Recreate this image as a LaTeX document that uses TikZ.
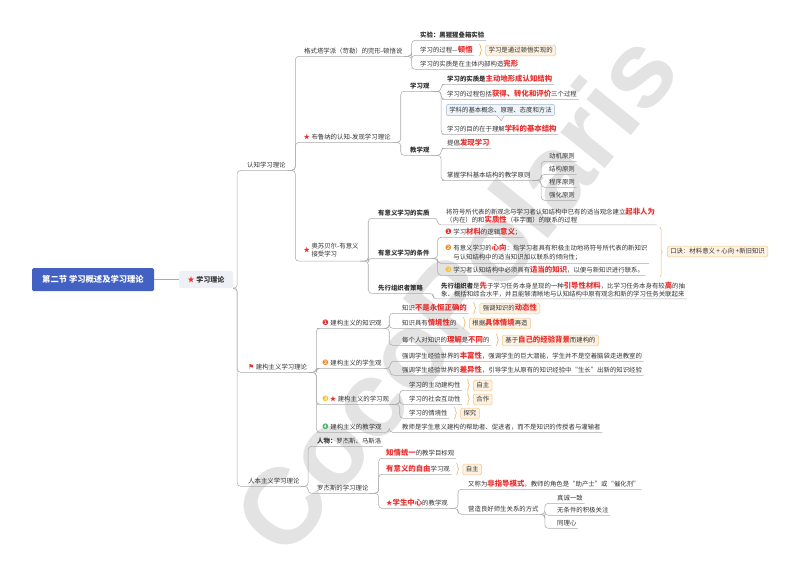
\documentclass[tikz,border=0pt]{standalone}
\usepackage{fontspec}
\setmainfont{Noto Sans CJK SC}
\newfontfamily\djv{DejaVu Sans}
\newfontfamily\wmf{Liberation Sans}
\usetikzlibrary{decorations.pathreplacing,calc}
\definecolor{txt}{HTML}{333333}
\definecolor{hlred}{HTML}{E8302F}
\definecolor{lg}{HTML}{ABABAB}
\definecolor{rootblue}{HTML}{4361C2}
\definecolor{tagbg}{HTML}{EEF0F6}
\definecolor{peach}{HTML}{FDF2E2}
\definecolor{peachb}{HTML}{F3C589}
\definecolor{brcol}{HTML}{EFB869}
\definecolor{callbg}{HTML}{EEF4F9}
\definecolor{callb}{HTML}{A6B8CC}
\definecolor{cA}{HTML}{E0302F}
\definecolor{cB}{HTML}{F0892E}
\definecolor{cC}{HTML}{F5C132}
\definecolor{cD}{HTML}{4CAF6A}
\definecolor{wm}{HTML}{E3E3E3}
\newcommand\fs{\fontsize{6.4pt}{8.4pt}\selectfont}
\newcommand\hl[1]{{\fontsize{7.4pt}{8.4pt}\selectfont\bfseries\color{hlred}#1}}
\newcommand\rst{{\color{hlred}★}}
\newcommand\nA{{\djv\fontsize{7.5pt}{8pt}\selectfont\color{cA}❶}}
\newcommand\nB{{\djv\fontsize{7.5pt}{8pt}\selectfont\color{cB}❷}}
\newcommand\nC{{\djv\fontsize{7.5pt}{8pt}\selectfont\color{cC}❸}}
\newcommand\nD{{\djv\fontsize{7.5pt}{8pt}\selectfont\color{cD}❹}}
\newcommand\flg{{\djv\fontsize{7pt}{8pt}\selectfont\color{hlred}⚑}}
\newcommand\lnk[3][8]{\draw[conn] (#2.south east) -- ++(#1,0) |- (#3.south west) -- (#3.south east);}
\newcommand\brsum[3]{%
  \draw[brcs] ($(#1.east)+(5,-6)$) -- ($(#1.east)+(5,6)$);
  \node[sbox] (#2) at ($(#1.east)+(11,0.5)$) {#3};}
\tikzset{
  t/.style={anchor=west, inner xsep=1.5pt, inner ysep=1.5pt, text height=5.8pt, text depth=1.4pt, font=\fs, text=txt},
  tb/.style={t, font=\fs\bfseries},
  ml/.style={anchor=west, inner xsep=1.5pt, inner ysep=1.5pt, font=\fs, text=txt, align=left},
  conn/.style={draw=lg, line width=0.55pt, rounded corners=3.5pt},
  sbox/.style={anchor=west, fill=peach, draw=peachb, line width=0.5pt, rounded corners=1.5pt, inner xsep=3pt, inner ysep=1.8pt, text height=5.8pt, text depth=1.4pt, font=\fs, text=txt},
  brcs/.style={draw=brcol, line width=0.6pt, decorate, decoration={brace, amplitude=2.2pt}},
  rootbox/.style={fill=rootblue, text=white, font=\fontsize{8.3pt}{9pt}\selectfont\bfseries, minimum width=122pt, minimum height=23pt, rounded corners=1.5pt, inner sep=0pt},
  tagbox/.style={fill=tagbg, text=txt, font=\fontsize{7pt}{8pt}\selectfont\bfseries, minimum width=54pt, minimum height=17pt, rounded corners=1.5pt, inner sep=0pt},
  callout/.style={fill=callbg, draw=callb, line width=0.5pt, rounded corners=2pt, inner xsep=3pt, inner ysep=2pt, font=\fs, text=txt, text height=5.8pt, text depth=1.4pt}
}
\begin{document}
\begin{tikzpicture}[x=1pt,y=-1pt]
\useasboundingbox (0,0) rectangle (800,566);
% watermark
\node[rotate=51, text=wm, font=\wmf\fontsize{108pt}{108pt}\selectfont\bfseries] (wmk) at (455,292) {CocoPolaris};

% root
\node[rootbox] (root) at (93,279.5) {第二节 学习概述及学习理论};
\node[tagbox] (lt) at (206,279.5) {\rst\ 学习理论};
\draw[conn] (root.east) -- (lt.west);

% level 1
\node[t] (rz) at (245.5,165) {认知学习理论};
\node[t] (jg) at (246.5,367) {\flg\ 建构主义学习理论};
\node[t] (rb) at (246.5,481) {人本主义学习理论};
\lnk[4]{lt}{rz}
\lnk[4]{lt}{jg}
\lnk[4]{lt}{rb}

% cognitive
\node[t] (gs) at (302.5,51) {格式塔学派（苛勒）的完形-顿悟说};
\node[t] (bln) at (302,137) {\rst\ 布鲁纳的认知-发现学习理论};
\node[ml] (asb) at (302,251) {\rst\ \begin{tabular}{@{}l@{}}奥苏贝尔-有意义\\接受学习\end{tabular}};
\lnk[8]{rz}{gs}
\lnk[8]{rz}{bln}
\lnk[8]{rz}{asb}

% gestalt
\node[tb] (sy) at (418.5,35) {实验：黑猩猩叠箱实验};
\node[t] (gc) at (418.5,50) {学习的过程—\hl{顿悟}};
\node[t] (sz) at (418.5,64) {学习的实质是在主体内部构造\hl{完形}};
\lnk[7.5]{gs}{sy}
\lnk[7.5]{gs}{gc}
\lnk[7.5]{gs}{sz}
\brsum{gc}{dw}{学习是通过顿悟实现的}

% Bruner
\node[tb] (xxg) at (408.5,86) {学习观};
\node[tb] (jxg) at (408.5,150) {教学观};
\lnk[8.5]{bln}{xxg}
\lnk[8.5]{bln}{jxg}
\node[t] (x1) at (445.5,79) {\textbf{学习的实质是}\hl{主动地形成认知结构}};
\node[t] (x2) at (445.5,94) {学习的过程包括\hl{获得、转化和评价}三个过程};
\node[t] (x3) at (445.5,129) {学习的目的在于理解\hl{学科的基本结构}};
\lnk[10]{xxg}{x1}
\lnk[10]{xxg}{x2}
\lnk[10]{xxg}{x3}
\node[callout] (cb) at (500.5,110) {学科的基本概念、原理、态度和方法};
\fill[callbg] ($(cb.south)+(-3.5,-0.6)$) -- ($(cb.south)+(1,5)$) -- ($(cb.south)+(3.5,-0.6)$) -- cycle;
\draw[callb, line width=0.5pt] ($(cb.south)+(-3.5,0)$) -- ($(cb.south)+(1,5)$) -- ($(cb.south)+(3.5,0)$);
\node[t] (j1) at (445.5,143) {提倡\hl{发现学习}};
\node[t] (j2) at (445.5,175) {掌握学科基本结构的教学原则};
\lnk[10]{jxg}{j1}
\lnk[10]{jxg}{j2}
\node[t] (p1) at (547.5,156) {动机原则};
\node[t] (p2) at (547.5,169) {结构原则};
\node[t] (p3) at (547.5,182) {程序原则};
\node[t] (p4) at (547.5,195) {强化原则};
\lnk[9]{j2}{p1}
\lnk[9]{j2}{p2}
\lnk[9]{j2}{p3}
\lnk[9]{j2}{p4}

% Ausubel
\node[tb] (a1) at (376.5,213) {有意义学习的实质};
\node[tb] (a2) at (376.5,253) {有意义学习的条件};
\node[tb] (a3) at (376.5,288) {先行组织者策略};
\lnk[8]{asb}{a1}
\lnk[8]{asb}{a2}
\lnk[8]{asb}{a3}
\node[ml] (a1c) at (444.5,215.5) {将符号所代表的新观念与学习者认知结构中已有的适当观念建立\hl{起非人为}\\（内在）的和\hl{实质性}（非字面）的联系的过程};
\lnk[6.5]{a1}{a1c}
\node[t] (c1) at (443.5,232) {\nA\ 学习\hl{材料}的逻辑\hl{意义}；};
\node[ml] (c2) at (443.5,253) {\nB\ \begin{tabular}[t]{@{}l@{}}有意义学习的\hl{心向}：指学习者具有积极主动地将符号所代表的新知识\\与认知结构中的适当知识加以联系的倾向性；\end{tabular}};
\node[t] (c3) at (443.5,270) {\nC\ 学习者认知结构中必须具有\hl{适当的知识}，以便与新知识进行联系。};
\lnk[6.5]{a2}{c1}
\lnk[6.5]{a2}{c2}
\lnk[6.5]{a2}{c3}
\draw[brcs] (660,227) -- (660,277);
\node[sbox] (kj) at (667,251.5) {口诀：材料意义 + 心向 +新旧知识};
\node[ml] (a3c) at (439.5,289.5) {\textbf{先行组织者}是\hl{先}于学习任务本身呈现的一种\hl{引导性材料}，比学习任务本身有较\hl{高}的抽\\象、概括和综合水平，并且能够清晰地与认知结构中原有观念和新的学习任务关联起来};
\lnk[8.5]{a3}{a3c}

% constructivism
\node[t] (k1) at (320.5,323) {\nA\ 建构主义的知识观};
\node[t] (k2) at (320.5,363) {\nB\ 建构主义的学生观};
\node[t] (k3) at (320.5,399) {\nC\,\rst\ 建构主义的学习观};
\node[t] (k4) at (320.5,427) {\nD\ 建构主义的教学观};
\lnk[7.5]{jg}{k1}
\lnk[7.5]{jg}{k2}
\lnk[7.5]{jg}{k3}
\lnk[7.5]{jg}{k4}
\node[t] (z1) at (400.5,308) {知识\hl{不是永恒正确的}};
\node[t] (z2) at (400.5,323) {知识具有\hl{情境性}的};
\node[t] (z3) at (400.5,340) {每个人对知识的\hl{理解}是\hl{不同}的};
\lnk[6]{k1}{z1}
\lnk[6]{k1}{z2}
\lnk[6]{k1}{z3}
\brsum{z1}{zb1}{强调知识的\hl{动态性}}
\brsum{z2}{zb2}{根据\hl{具体情境}再造}
\brsum{z3}{zb3}{基于\hl{自己的经验背景}而建构的}
\node[t] (s1) at (400.5,356) {强调学生经验世界的\hl{丰富性}，强调学生的巨大潜能，学生并不是空着脑袋走进教室的};
\node[t] (s2) at (400.5,370) {强调学生经验世界的\hl{差异性}，引导学生从原有的知识经验中“生长”出新的知识经验};
\lnk[7]{k2}{s1}
\lnk[7]{k2}{s2}
\node[t] (l1) at (407.5,385) {学习的主动建构性};
\node[t] (l2) at (407.5,399) {学习的社会互动性};
\node[t] (l3) at (407.5,413) {学习的情境性};
\lnk[9]{k3}{l1}
\lnk[9]{k3}{l2}
\lnk[9]{k3}{l3}
\brsum{l1}{lb1}{自主}
\brsum{l2}{lb2}{合作}
\brsum{l3}{lb3}{探究}
\node[t] (k4c) at (400.5,427) {教师是学生意义建构的帮助者、促进者，而不是知识的传授者与灌输者};
\lnk[6]{k4}{k4c}

% humanism
\node[t] (r1) at (315.5,441) {\textbf{人物：}罗杰斯、马斯洛};
\node[t] (r2) at (315.5,488) {罗杰斯的学习理论};
\lnk[7]{rb}{r1}
\lnk[7]{rb}{r2}
\node[t] (g1) at (384.5,453) {\hl{知情统一}的教学目标观};
\node[t] (g2) at (384.5,469) {\hl{有意义的自由}学习观};
\node[t] (g3) at (384.5,503) {\rst\hl{学生中心}的教学观};
\lnk[8.5]{r2}{g1}
\lnk[8.5]{r2}{g2}
\lnk[8.5]{r2}{g3}
\brsum{g2}{gb2}{自主}
\node[t] (h1) at (466.5,484) {又称为\hl{非指导模式}，教师的角色是“助产士”或“催化剂”};
\node[t] (h2) at (466.5,509) {营造良好师生关系的方式};
\lnk[8.5]{g3}{h1}
\lnk[8.5]{g3}{h2}
\node[t] (q1) at (555.5,498) {真诚一致};
\node[t] (q2) at (555.5,510) {无条件的积极关注};
\node[t] (q3) at (555.5,523) {同理心};
\lnk[4.5]{h2}{q1}
\lnk[4.5]{h2}{q2}
\lnk[4.5]{h2}{q3}
\end{tikzpicture}
\end{document}
